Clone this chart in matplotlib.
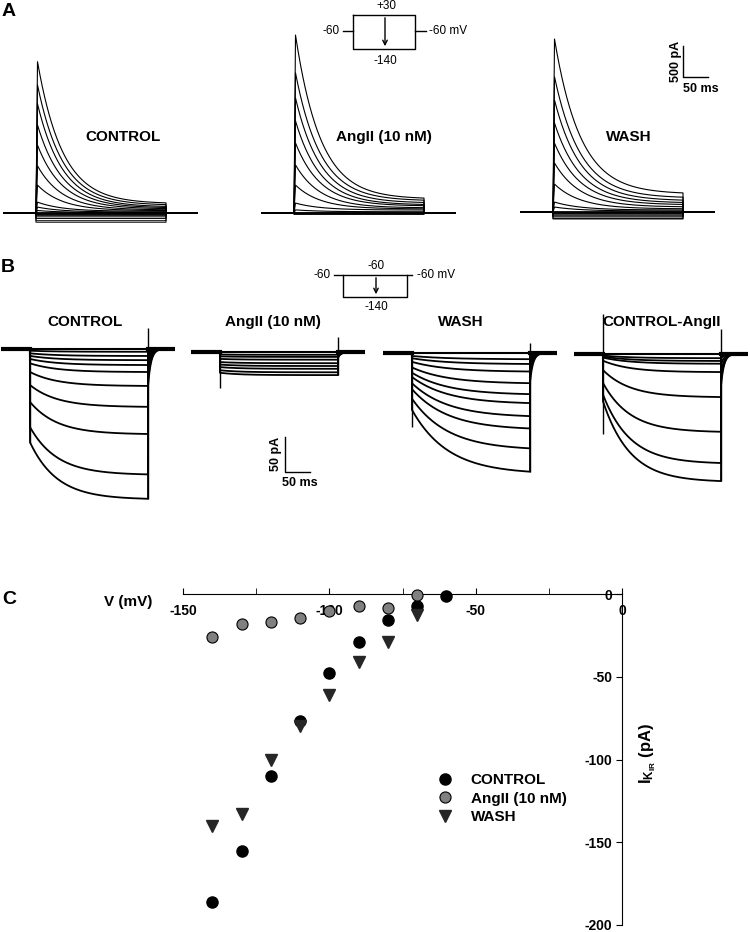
import numpy as np
import matplotlib.pyplot as plt

plt.rcParams['font.family'] = ['Liberation Sans', 'DejaVu Sans']
plt.rcParams['mathtext.fontset'] = 'custom'
plt.rcParams['mathtext.rm'] = 'Liberation Sans'
plt.rcParams['mathtext.bf'] = 'Liberation Sans:bold'
plt.rcParams['axes.unicode_minus'] = False

W, H = 750, 932

# ---------------- panel A : outward currents (pA), steps -50 ... +30 mV
a_ctrl_peak = [2440, 2065, 1760, 1420, 1095, 760, 450, 175, 95, 40]
a_ctrl_end = [150, 124, 97, 81, 65, 48, 37, 27, 14, 6]
a_ang_peak = [2870, 2260, 1855, 1485, 1130, 775, 450, 160, 50]
a_ang_end = [225, 195, 160, 130, 112, 82, 65, 48, 20]
a_wash_peak = [2790, 2180, 1805, 1435, 1110, 790, 450, 160, 80]
a_wash_end = [290, 225, 180, 145, 115, 80, 50, 32, 16]
a_tau = [50, 50, 52]          # decay time constant, ms

# ---------------- panel B : inward currents (pA), steps -140 ... -60 mV
b_ctrl_ss = [-215, -180, -122, -83, -53, -33, -23, -16, -10, -4]
b_ang_ss = [-33, -29, -24, -20, -16, -11, -7, -4]
b_wash_ss = [-173, -139, -110, -92, -73, -60, -44, -27, -16, -9]
b_diff_ss = [-183, -157, -112, -62, -26, -14, -10, -6]
b_frac = [0.38, 0.1, 0.53, 0.63]   # time-dependent fraction
b_tau = [54, 40, 72, 54]
b_on_top = [0, 0, 0, 57]
b_on_bot = [-134, -51, -106, -114]
b_off_top = [30, 21, 14, 36]

# ---------------- panel C : I-V
v_ctrl = [-140, -130, -120, -110, -100, -90, -80, -70, -60]
i_ctrl = [-186, -155, -110, -77, -48, -29, -16, -7, -1.5]
v_ang = [-140, -130, -120, -110, -100, -90, -80, -70]
i_ang = [-26, -18, -17, -14.5, -10, -7.5, -8.5, -0.5]
v_wash = [-140, -130, -120, -110, -100, -90, -80, -70]
i_wash = [-140, -133, -100, -80, -61, -41, -29, -12.5]

fig = plt.figure(figsize=(W / 100, H / 100), dpi=100)
ov = fig.add_axes([0, 0, 1, 1])
ov.set_xlim(0, W)
ov.set_ylim(H, 0)
ov.axis('off')


def px_axes(x_on, y_base, t0, t1, i0, i1, ms_px, pa_px):
    left = x_on + t0 / ms_px
    right = x_on + t1 / ms_px
    top = y_base - i1 / pa_px
    bot = y_base - i0 / pa_px
    ax = fig.add_axes([left / W, 1 - bot / H, (right - left) / W, (bot - top) / H])
    ax.set_xlim(t0, t1)
    ax.set_ylim(i0, i1)
    ax.axis('off')
    return ax


def a_trace(t, peak, end, dur, tau, rise=3.0):
    i = np.zeros_like(t)
    on = (t >= 0) & (t <= dur)
    tt = t[on]
    i[on] = np.where(tt < rise, tt / rise * peak,
                     (peak - end) * np.exp(-(tt - rise) / tau) + end)
    return i


def b_trace(t, ss, dur, frac, tau):
    i = np.zeros_like(t)
    on = (t >= 0) & (t <= dur)
    i[on] = ss * (1 - frac * np.exp(-t[on] / tau))
    i_end = ss * (1 - frac * np.exp(-dur / tau))
    off = t > dur
    i[off] = 0.25 * i_end * np.exp(-(t[off] - dur) / 6.0)
    return i


# ---------------- panel A
A_PRE, A_DUR, A_POST = 66, 260, 64
a_ms_px, a_pa_px = 2.0, 500 / 31
a_sets = [(36, 213, a_ctrl_peak, a_ctrl_end, i_ctrl[:8]),
          (294, 213, a_ang_peak, a_ang_end, i_ang),
          (553, 212, a_wash_peak, a_wash_end, i_wash)]
a_axes = []
tA = np.arange(-A_PRE, A_DUR + A_POST, 0.25)
for k, (x_on, yb, pk, en, inward) in enumerate(a_sets):
    ax = px_axes(x_on, yb, -A_PRE, A_DUR + A_POST, -300, 3000, a_ms_px, a_pa_px)
    ax.plot(tA, np.zeros_like(tA), color='k', lw=1.3)
    for p, e in zip(pk, en):
        ax.plot(tA, a_trace(tA, p, e, A_DUR, a_tau[k]), color='k', lw=0.8)
    for lev in inward:
        tr = np.where((tA >= 0) & (tA <= A_DUR), lev * 0.8, 0.0)
        ax.plot(tA, tr, color='k', lw=0.7)
    a_axes.append(ax)

# scale bar A (in WASH axes data units)
axw = a_axes[2]
axw.plot([260, 260, 310], [2678, 2178, 2178], color='k', lw=1, clip_on=False)
axw.text(246, 2428, '500 pA', rotation=90, ha='center', va='center',
         fontsize=9, fontweight='bold')
axw.text(296, 1985, '50 ms', ha='center', va='center', fontsize=9, fontweight='bold')

# labels A
for x, s in [(123, 'CONTROL'), (384, 'AngII (10 nM)'), (629, 'WASH')]:
    ov.text(x, 137, s, ha='center', va='center', fontsize=11, fontweight='bold')

# protocol A
ov.plot([353, 415, 415, 353, 353], [15, 15, 49, 49, 15], color='k', lw=1)
ov.plot([343, 353], [31, 31], color='k', lw=1)
ov.plot([415, 426], [31, 31], color='k', lw=1)
ov.annotate('', xy=(385, 49), xytext=(385, 15),
            arrowprops=dict(arrowstyle='->', lw=1, color='k', mutation_scale=8))
ov.text(386, 6, '+30', ha='center', va='center', fontsize=8.5)
ov.text(385, 61, '-140', ha='center', va='center', fontsize=8.5)
ov.text(340, 31, '-60', ha='right', va='center', fontsize=8.5)
ov.text(429, 31, '-60 mV', ha='left', va='center', fontsize=8.5)

# ---------------- panel B
B_PRE, B_DUR, B_POST = 58, 236, 54
b_ms_px, b_pa_px = 2.0, 50 / 35
b_sets = [(30, 349, b_ctrl_ss), (220, 352, b_ang_ss),
          (412, 353, b_wash_ss), (603, 354, b_diff_ss)]
b_axes = []
tB = np.arange(-B_PRE, B_DUR + B_POST, 0.25)
for k, (x_on, yb, ss_list) in enumerate(b_sets):
    ax = px_axes(x_on, yb, -B_PRE, B_DUR + B_POST, -240, 70, b_ms_px, b_pa_px)
    ax.plot([-B_PRE, 0], [0, 0], color='k', lw=3)
    ax.plot([B_DUR, B_DUR + B_POST], [0, 0], color='k', lw=3)
    ax.plot([0, B_DUR], [0, 0], color='k', lw=1.5)
    ends = []
    for ss in ss_list:
        tr = b_trace(tB, ss, B_DUR, b_frac[k], b_tau[k])
        ax.plot(tB, tr, color='k', lw=1.3)
        ends.append(tr[tB <= B_DUR][-1])
    ax.vlines(0, b_on_bot[k], b_on_top[k], color='k', lw=1)
    ax.vlines(B_DUR, min(ends), b_off_top[k], color='k', lw=1)
    b_axes.append(ax)

# scale bar B (in AngII axes data units)
axa = b_axes[1]
axa.plot([130, 130, 180], [-121, -171, -171], color='k', lw=1, clip_on=False)
axa.text(112, -146, '50 pA', rotation=90, ha='center', va='center',
         fontsize=9, fontweight='bold')
axa.text(160, -187, '50 ms', ha='center', va='center', fontsize=9, fontweight='bold')

for x, s in [(85, 'CONTROL'), (273, 'AngII (10 nM)'), (461, 'WASH'), (662, 'CONTROL-AngII')]:
    ov.text(x, 322, s, ha='center', va='center', fontsize=11, fontweight='bold')

# protocol B
ov.plot([334, 412], [275, 275], color='k', lw=1)
ov.plot([343, 343, 407, 407], [275, 297, 297, 275], color='k', lw=1)
ov.annotate('', xy=(376, 297), xytext=(376, 275),
            arrowprops=dict(arrowstyle='->', lw=1, color='k', mutation_scale=8))
ov.text(376, 266, '-60', ha='center', va='center', fontsize=8.5)
ov.text(376, 307, '-140', ha='center', va='center', fontsize=8.5)
ov.text(331, 275, '-60', ha='right', va='center', fontsize=8.5)
ov.text(417, 275, '-60 mV', ha='left', va='center', fontsize=8.5)

# panel letters
ov.text(2, 12, 'A', ha='left', va='center', fontsize=14, fontweight='bold')
ov.text(1, 268, 'B', ha='left', va='center', fontsize=14, fontweight='bold')
ov.text(2, 600, 'C', ha='left', va='center', fontsize=14, fontweight='bold')

# ---------------- panel C
axc = fig.add_axes([183 / W, 1 - 925 / H, (622 - 183) / W, (925 - 594) / H])
axc.set_xlim(-150, 0)
axc.set_ylim(-200, 0)
axc.patch.set_alpha(0)
axc.spines['top'].set_visible(False)
axc.spines['right'].set_visible(False)
axc.spines['bottom'].set_position(('data', 0))
axc.spines['left'].set_position(('data', 0))
axc.set_xticks([-150, -100, -50, 0])
axc.set_xticks([-125, -75, -25], minor=True)
axc.set_yticks([-200, -150, -100, -50, 0])
axc.tick_params(axis='x', which='both', direction='in', length=4, pad=7)
axc.tick_params(axis='y', direction='out', length=4, pad=3)
for lab in axc.get_xticklabels() + axc.get_yticklabels():
    lab.set_fontweight('bold')
    lab.set_fontsize(10)

axc.plot(v_ctrl, i_ctrl, 'o', color='k', ms=8, ls='none', label='CONTROL',
         clip_on=False, zorder=3)
axc.plot(v_ang, i_ang, 'o', color='#808080', mec='k', mew=0.8, ms=8, ls='none',
         label='AngII (10 nM)', clip_on=False, zorder=3)
axc.plot(v_wash, i_wash, 'v', color='#262626', ms=8, ls='none', label='WASH',
         clip_on=False, zorder=3)

leg = axc.legend(loc='upper left', bbox_to_anchor=(437 / W, 1 - 773 / H),
                 bbox_transform=fig.transFigure, frameon=False, borderpad=0,
                 borderaxespad=0, handlelength=1.0, handletextpad=1.2,
                 labelspacing=0.3, prop={'weight': 'bold', 'size': 11})

ov.text(128, 602, 'V (mV)', ha='center', va='center', fontsize=11, fontweight='bold')
ov.text(648, 753, r'$\mathbf{I_{K_{IR}}}$ (pA)', rotation=90, ha='center', va='center',
        fontsize=12, fontweight='bold')

fig.savefig('out.png', dpi=100)
